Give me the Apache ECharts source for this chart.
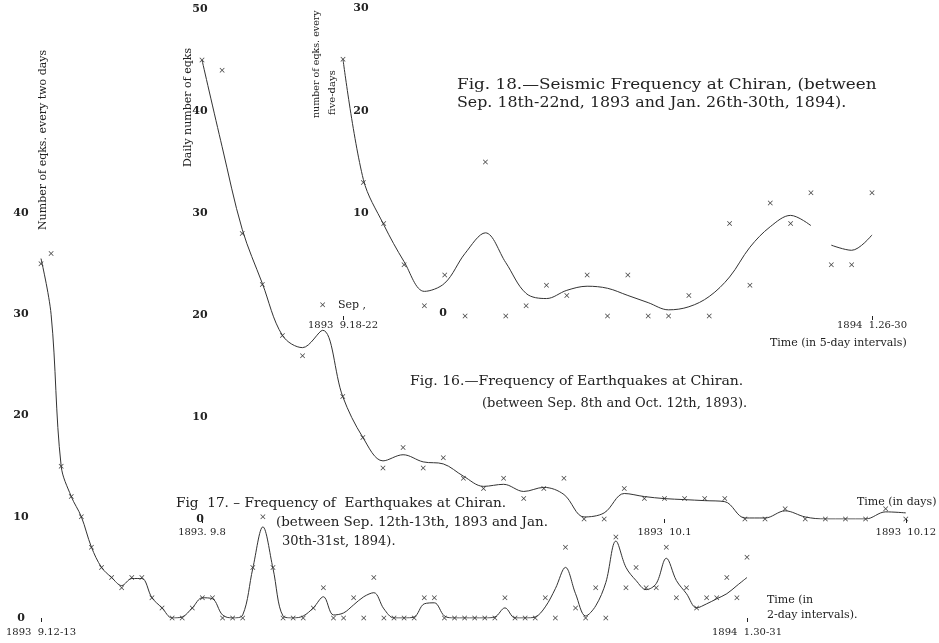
<!DOCTYPE html>
<html>
<head>
<meta charset="utf-8">
<title>Seismic Frequency at Chiran</title>
<script src="https://cdn.jsdelivr.net/npm/echarts@6.0.0/dist/echarts.min.js"></script>
<style>
    html, body { margin: 0; padding: 0; background: #fff; }
    #main { width: 939px; height: 643px; }
</style>
</head>
<body>
<div id="main"></div>
<script>
// Fig. 17 - number of eqks every two days (1893 9.12-13 ... 1894 1.30-31)
var fig17Counts = [35, 36, 15, 12, 10, 7, 5, 4, 3, 4,
    4, 2, 1, 0, 0, 1, 2, 2, 0, 0,
    0, 5, 10, 5, 0, 0, 0, 1, 3, 0,
    0, 2, 0, 4, 0, 0, 0, 0, 2, 2,
    0, 0, 0, 0, 0, 0, 2, 0, 0, 0,
    2, 0, 7, 1, 0, 3, 0, 8, 3, 5,
    3, 3, 7, 2, 3, 1, 2, 2, 4, 2, 6];
// smoothed curve drawn through the points
var fig17Curve = [35.5, 30, 15, 12, 10, 7, 5, 4, 3.2, 3.9,
    3.9, 2, 1, 0, 0.1, 1, 2, 1.9, 0.3, 0,
    0.3, 4.9, 9, 4.9, 0.2, 0, 0.2, 1, 2.1, 0.3,
    0.5, 1.3, 2.1, 2.5, 0.9, 0, 0, 0.1, 1.4, 1.5,
    0.2, 0, 0, 0, 0, 0.1, 1.0, 0, 0, 0.1,
    1.1, 2.9, 5.0, 2.4, 0.2, 1.2, 3.5, 7.6, 5.0, 3.7,
    2.8, 3.4, 5.9, 3.7, 2.4, 1.0, 1.4, 1.9, 2.4, 3.2, 4.0];
var fig17TickAt = [0, 70];
var fig17TickLabels = ['1893  9.12-13', '1894  1.30-31'];

// Fig. 16 - daily number of eqks (1893 9.8 ... 10.12)
var fig16Counts = [45, 44, 28, 23, 18, 16, 21, 12, 8, 5,
    7, 5, 6, 4, 3, 4, 2, 3, 4, 0,
    0, 3, 2, 2, 2, 2, 2, 0, 0, 1,
    0, 0, 0, 0, 1, 0];
var fig16Curve = [45, 36.5, 28.4, 23.1, 18, 16.8, 18.5, 12, 8, 5.7,
    6.3, 5.6, 5.4, 4.2, 3.2, 3.4, 2.7, 3.1, 2.4, 0.2,
    0.6, 2.5, 2.2, 2.0, 1.9, 1.8, 1.7, 0.1, 0.1, 0.8,
    0.2, 0, 0, 0, 0.7, 0.6];
var fig16TickAt = [0, 23, 35];
var fig16TickLabels = ['1893. 9.8', '1893  10.1', '1893  10.12'];

// Fig. 18 - number of eqks every five days (1893 9.18-22 ... 1894 1.26-30)
var fig18Counts = [25, 13, 9, 5, 1, 4, 0, 15, 0, 1,
    3, 2, 4, 0, 4, 0, 0, 2, 0, 9,
    3, 11, 9, 12, 5, 5, 12];
var fig18CurveA = [25, 13.3, 8.9, 5.3, 2.4, 3.2, 6.1, 8.1, 5.2, 2.2,
    1.7, 2.5, 2.9, 2.7, 2.0, 1.3, 0.6, 0.9, 1.9, 3.8,
    6.7, 8.7, 9.8, 8.8, null, null, null];
var fig18CurveB = [null, null, null, null, null, null, null, null, null, null,
    null, null, null, null, null, null, null, null, null, null,
    null, null, null, null, 6.9, 6.4, 7.9];
var fig18TickAt = [0, 26];
var fig18TickLabels = ['1893  9.18-22', '1894  1.26-30'];

var SERIF = 'DejaVu Serif';
var INK = '#222';
var CROSS = 'path://M0,1L1,0L5,4L9,0L10,1L6,5L10,9L9,10L5,6L1,10L0,9L4,5Z';

function pairs(arr) {
    return arr.map(function (v, i) { return [i, v]; });
}

function xAxisFor(grid, max, tickAt, tickLabels, margin) {
    return {
        type: 'value', gridIndex: grid, min: 0, max: max,
        axisLine: { show: false },
        splitLine: { show: false },
        axisTick: { show: true, customValues: tickAt, length: 4, lineStyle: { color: INK } },
        axisLabel: {
            customValues: tickAt,
            margin: margin,
            color: INK, fontFamily: SERIF, fontSize: 10,
            formatter: function (v) {
                var k = tickAt.indexOf(v);
                return k >= 0 ? tickLabels[k] : '';
            }
        }
    };
}

function yAxisFor(grid, max, margin, hideZero) {
    return {
        type: 'value', gridIndex: grid, min: 0, max: max, interval: 10,
        axisLine: { show: false },
        axisTick: { show: false },
        splitLine: { show: false },
        axisLabel: {
            align: 'center', margin: margin,
            color: INK, fontFamily: SERIF, fontSize: 11, fontWeight: 'bold',
            formatter: function (v) { return (hideZero && v === 0) ? '' : String(v); }
        }
    };
}

function curve(idx, data) {
    return {
        type: 'line', xAxisIndex: idx, yAxisIndex: idx, data: pairs(data),
        smooth: 0.35, showSymbol: false, connectNulls: false, silent: true,
        lineStyle: { color: '#333', width: 1 }
    };
}

function marks(idx, data) {
    return {
        type: 'scatter', xAxisIndex: idx, yAxisIndex: idx, data: pairs(data),
        symbol: CROSS, symbolSize: 5, silent: true,
        itemStyle: { color: '#111' }
    };
}

function txt(x, y, text, size, extra) {
    var el = {
        type: 'text', x: x, y: y, silent: true,
        style: {
            text: text, fill: INK,
            font: (extra && extra.weight ? extra.weight + ' ' : '') + size + 'px "' + SERIF + '"',
            textAlign: (extra && extra.align) || 'left',
            textVerticalAlign: 'middle'
        }
    };
    if (extra && extra.rotate) { el.rotation = Math.PI / 2; }
    if (extra && extra.scaleX) { el.scaleX = extra.scaleX; }
    return el;
}

var myChart = echarts.init(document.getElementById('main'));
var option = {
    backgroundColor: '#ffffff',
    animation: false,
    grid: [
        { left: 41, top: 213, width: 706, height: 405 },   // Fig. 17
        { left: 202, top: 9, width: 709, height: 510 },    // Fig. 16
        { left: 343, top: 8, width: 529, height: 308 }     // Fig. 18
    ],
    xAxis: [
        xAxisFor(0, 70, fig17TickAt, fig17TickLabels, 9),
        xAxisFor(1, 35, fig16TickAt, fig16TickLabels, 8),
        xAxisFor(2, 26, fig18TickAt, fig18TickLabels, 4)
    ],
    yAxis: [
        yAxisFor(0, 40, 20, false),
        yAxisFor(1, 50, 2, false),
        yAxisFor(2, 30, -18, true)
    ],
    series: [
        curve(0, fig17Curve), marks(0, fig17Counts),
        curve(1, fig16Curve), marks(1, fig16Counts),
        curve(2, fig18CurveA), curve(2, fig18CurveB), marks(2, fig18Counts)
    ],
    graphic: [
        // axis names
        txt(43, 230, 'Number of eqks. every two days', 11, { rotate: true }),
        txt(188, 167, 'Daily number of eqks', 11, { rotate: true }),
        txt(317, 118, 'number of eqks. every', 9.5, { rotate: true }),
        txt(332, 115, 'five-days', 10, { rotate: true }),
        // titles
        txt(457, 85, 'Fig. 18.\u2014Seismic Frequency at Chiran, (between', 14, { scaleX: 1.2 }),
        txt(457, 103, 'Sep. 18th-22nd, 1893 and Jan. 26th-30th, 1894).', 14, { scaleX: 1.13 }),
        txt(410, 382, 'Fig. 16.\u2014Frequency of Earthquakes at Chiran.', 13, { scaleX: 1.08 }),
        txt(482, 404, '(between Sep. 8th and Oct. 12th, 1893).', 13),
        txt(176, 504, 'Fig  17. \u2013 Frequency of  Earthquakes at Chiran.', 13, { scaleX: 1.05 }),
        txt(276, 523, '(between Sep. 12th-13th, 1893 and Jan.', 13, { scaleX: 1.035 }),
        txt(282, 542, '30th-31st, 1894).', 13),
        // time notes
        txt(770, 343, 'Time (in 5-day intervals)', 11),
        txt(857, 502, 'Time (in days)', 11),
        txt(767, 600, 'Time (in', 11),
        txt(767, 615, '2-day intervals).', 11),
        txt(338, 305, 'Sep ,', 11),
        txt(443, 313, '0', 11, { weight: 'bold', align: 'center' })
    ]
};
if (option && typeof option === "object") {
    myChart.setOption(option, true);
}
</script>
</body>
</html>
